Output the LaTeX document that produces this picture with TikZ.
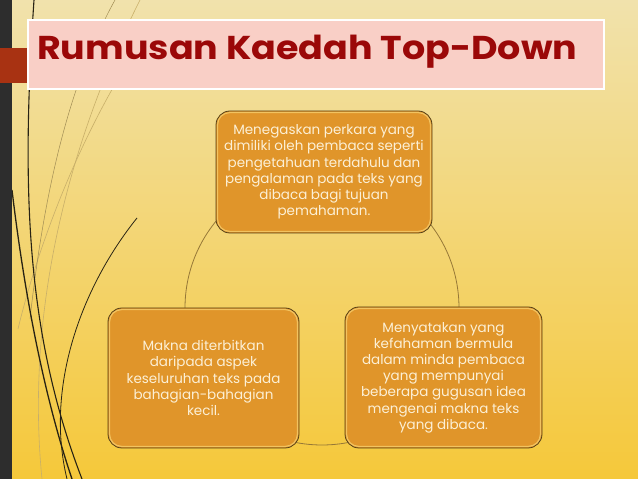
\documentclass[tikz,border=0pt]{standalone}
\usepackage{fontspec}
\setmainfont{Poppins}
\newfontfamily\titlefont{Poppins Bold}
\definecolor{bgtop}{RGB}{241,226,172}
\definecolor{bgbot}{RGB}{245,200,58}
\definecolor{barcol}{RGB}{45,45,45}
\definecolor{tabred}{RGB}{168,50,18}
\definecolor{titlepink}{RGB}{249,207,198}
\definecolor{titlered}{RGB}{155,8,8}
\definecolor{boxorange}{RGB}{224,149,42}
\definecolor{boxedge}{RGB}{85,65,25}
\definecolor{boxhi}{RGB}{250,215,120}
\definecolor{txtcol}{RGB}{252,240,214}
\definecolor{ringcol}{RGB}{150,120,55}
\definecolor{darkline}{RGB}{40,35,20}
\definecolor{tanline}{RGB}{200,175,105}
\tikzset{
  infobox/.style={rounded corners=14pt, fill=boxorange, draw=boxedge, line width=0.8pt,
    align=center, text=txtcol, inner sep=0pt,
    font=\fontsize{13.5}{16.2}\selectfont},
  hiline/.style={rounded corners=12pt, draw=boxhi, line width=1.2pt, opacity=0.7}
}
\begin{document}
\begin{tikzpicture}[x=1pt,y=1pt]
\useasboundingbox (0,0) rectangle (638,479);
% background
\shade[top color=bgtop, bottom color=bgbot] (0,0) rectangle (638,479);
% decorative curves
\draw[tanline, line width=0.6pt] (140,479) .. controls (70,340) and (25,170) .. (42,0);
\draw[tanline, line width=0.6pt] (118,400) .. controls (60,300) and (30,200) .. (18,150);
\draw[tanline!80!black, line width=0.5pt] (115,479) .. controls (60,380) and (40,250) .. (30,160);
\draw[darkline, line width=1.3pt] (12,289) .. controls (25,180) and (45,80) .. (72,0);
\draw[darkline, line width=1.1pt] (34,479) .. controls (22,300) and (24,150) .. (82,0);
\draw[darkline, line width=0.8pt] (137,261) .. controls (80,190) and (45,90) .. (67,0);
% left bar and tab
\fill[barcol] (0,0) rectangle (12,479);
\fill[tabred] (0,396) rectangle (28,431);
% title
\node[draw=white, line width=1.5pt, fill=titlepink, minimum width=576pt, minimum height=69pt,
  inner sep=0pt] (title) at (316,424.5) {};
\node[anchor=base west, inner sep=0pt, text=titlered]
  (titletext) at (37,419) {\resizebox{540pt}{\height}{\titlefont\fontsize{33}{33}\selectfont Rumusan Kaedah Top-Down}};
% ring
\draw[ringcol, line width=0.8pt] (322,171) circle[radius=137];
% boxes
\node[infobox, minimum width=216pt, minimum height=122pt] (top) at (324,307)
  {Menegaskan perkara yang\\dimiliki oleh pembaca seperti\\pengetahuan terdahulu dan\\pengalaman pada teks yang\\dibaca bagi tujuan\\pemahaman.};
\node[infobox, minimum width=191pt, minimum height=140pt] (left) at (203.5,101)
  {Makna diterbitkan\\daripada aspek\\keseluruhan teks pada\\bahagian-bahagian\\kecil.};
\node[infobox, minimum width=197pt, minimum height=141pt] (right) at (443.5,101.5)
  {Menyatakan yang\\kefahaman bermula\\dalam minda pembaca\\yang mempunyai\\beberapa gugusan idea\\mengenai makna teks\\yang dibaca.};
\foreach \b in {top,left,right}{
  \draw[hiline] ([shift={(2pt,2pt)}]\b.south west) rectangle ([shift={(-2pt,-2pt)}]\b.north east);
}
\end{tikzpicture}
\end{document}
